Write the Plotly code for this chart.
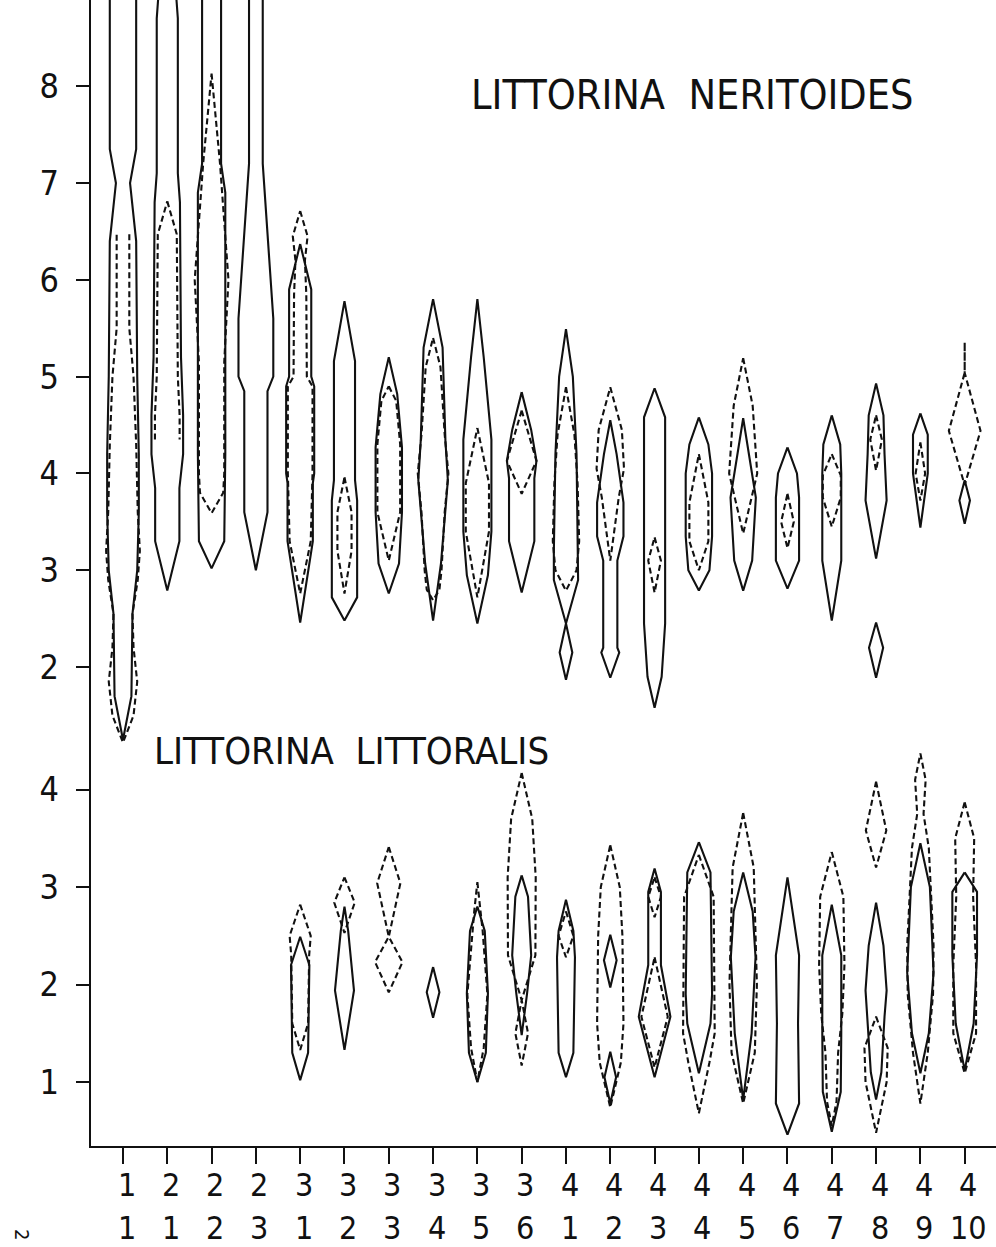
import plotly.graph_objects as go

# ---------------- data ----------------
SITES = ["1/1", "2/1", "2/2", "2/3", "3/1", "3/2", "3/3", "3/4", "3/5", "3/6",
         "4/1", "4/2", "4/3", "4/4", "4/5", "4/6", "4/7", "4/8", "4/9", "4/10"]
LEVEL_LABELS = [s.split("/")[0] for s in SITES]
STATION_LABELS = [s.split("/")[1] for s in SITES]

TOP_TICKS = [2, 3, 4, 5, 6, 7, 8]
BOTTOM_TICKS = [1, 2, 3, 4]

# kite outlines: list of pieces, each piece = list of (size, relative frequency), top to bottom
NER_SOLID = {
    "1/1": [[(9.0, 12.5), (7.35, 12.5), (7.0, 6.7), (6.4, 12.5), (5.0, 13.5), (4.2, 15), (3.6, 15),
             (3.0, 13.5), (2.55, 9), (1.7, 8), (1.25, 0)]],
    "2/1": [[(9.0, 8), (8.7, 10), (7.1, 10), (6.8, 12), (5.2, 13), (4.6, 15), (4.2, 15), (3.85, 11.5),
             (3.3, 11.5), (2.79, 0)]],
    "2/2": [[(9.0, 9), (7.2, 9), (6.9, 13), (4.2, 13), (3.3, 12), (3.02, 0)]],
    "2/3": [[(9.0, 6.5), (7.2, 6.5), (5.6, 16.5), (5.0, 16.5), (4.85, 11), (3.6, 11), (3.0, 0)]],
    "3/1": [[(6.37, 0), (5.9, 10.5), (5.0, 10.5), (4.9, 13.3), (4.0, 13.3), (3.9, 12), (3.3, 12), (2.46, 0)]],
    "3/2": [[(5.78, 0), (5.16, 10), (3.93, 10), (3.72, 12), (2.72, 12), (2.48, 0)]],
    "3/3": [[(5.2, 0), (4.82, 8), (4.27, 12.5), (3.6, 12.5), (3.07, 9.7), (2.76, 0)]],
    "3/4": [[(5.8, 0), (5.3, 9), (4.34, 11.7), (3.93, 14), (3.07, 7.5), (2.48, 0)]],
    "3/5": [[(5.8, 0), (5.2, 6), (4.35, 13.3), (3.4, 13.3), (2.95, 10), (2.45, 0)]],
    "3/6": [[(4.84, 0), (4.45, 9), (4.13, 14), (3.95, 12), (3.3, 12), (2.77, 0)]],
    "4/1": [[(5.49, 0), (5.0, 6.5), (4.2, 10), (3.2, 11.5), (2.9, 11.5), (2.45, 0), (2.15, 6), (1.87, 0)]],
    "4/2": [[(4.55, 0), (4.2, 6), (3.7, 12.5), (3.35, 12.5), (3.1, 6.7), (2.2, 6.7), (2.15, 8.5), (1.89, 0)]],
    "4/3": [[(4.88, 0), (4.58, 10), (2.45, 10), (1.9, 6.7), (1.58, 0)]],
    "4/4": [[(4.58, 0), (4.3, 9), (4.0, 12.5), (3.35, 12.5), (3.0, 10), (2.79, 0)]],
    "4/5": [[(4.57, 0), (3.75, 12), (3.1, 8.5), (2.79, 0)]],
    "4/6": [[(4.27, 0), (4.0, 9), (3.75, 11), (3.1, 11), (2.81, 0)]],
    "4/7": [[(4.6, 0), (4.3, 8), (4.0, 9), (3.1, 9), (2.48, 0)]],
    "4/8": [[(4.93, 0), (4.6, 7), (4.2, 8), (3.72, 10), (3.12, 0)], [(2.46, 0), (2.2, 6.7), (1.89, 0)]],
    "4/9": [[(4.62, 0), (4.4, 7), (4.0, 7), (3.44, 0)]],
    "4/10": [[(3.93, 0), (3.72, 5), (3.48, 0)]],
}

NER_DASHED = {
    "1/1": [[(6.47, 6), (5.5, 6), (5.0, 10), (4.3, 12.5), (3.6, 14), (3.2, 16), (2.9, 14), (2.55, 9),
             (2.2, 10), (1.85, 13.5), (1.5, 10), (1.22, 0)]],
    "2/1": [[(6.81, 0), (6.47, 9), (5.0, 10), (4.6, 11.7), (4.35, 11.7)]],
    "2/2": [[(8.13, 0), (7.2, 8), (6.0, 16), (5.15, 12), (4.0, 12), (3.8, 11), (3.59, 0)]],
    "3/1": [[(6.71, 0), (6.45, 7), (6.2, 4.5), (5.85, 5.8), (5.0, 6.3), (4.9, 11.7), (4.0, 11.7),
             (3.3, 10), (2.76, 0)]],
    "3/2": [[(3.96, 0), (3.6, 6.7), (3.2, 6.7), (2.76, 0)]],
    "3/3": [[(4.9, 0), (4.75, 7), (4.3, 10.8), (3.6, 10.8), (3.1, 0)]],
    "3/4": [[(5.4, 0), (5.1, 7), (4.4, 11), (4.0, 14.5), (3.6, 11), (3.0, 8), (2.8, 6), (2.69, 0)]],
    "3/5": [[(4.47, 0), (3.9, 11), (3.4, 11), (2.72, 0)]],
    "3/6": [[(4.65, 0), (4.13, 14), (3.79, 0)]],
    "4/1": [[(4.89, 0), (4.4, 8), (3.9, 11), (3.3, 12.5), (3.0, 10), (2.79, 0)]],
    "4/2": [[(4.89, 0), (4.45, 11), (4.05, 13), (3.75, 8), (3.1, 0)]],
    "4/3": [[(3.34, 0), (3.1, 6), (2.77, 0)]],
    "4/4": [[(4.2, 0), (3.7, 9), (3.3, 9), (3.0, 0)]],
    "4/5": [[(5.19, 0), (4.7, 9), (4.0, 13.3), (3.38, 0)]],
    "4/6": [[(3.79, 0), (3.5, 6), (3.23, 0)]],
    "4/7": [[(4.2, 0), (3.98, 8.5), (3.75, 8.5), (3.45, 0)]],
    "4/8": [[(4.6, 0), (4.35, 5.5), (4.03, 0)]],
    "4/9": [[(4.32, 0), (4.0, 4.5), (3.72, 0)]],
    "4/10": [[(5.35, 0), (5.04, 0), (4.44, 15), (3.88, 0)]],
}

LIT_SOLID = {
    "3/1": [[(2.49, 0), (2.2, 8.7), (1.3, 7.5), (1.02, 0)]],
    "3/2": [[(2.8, 0), (2.55, 3.5), (1.94, 9), (1.33, 0)]],
    "3/4": [[(2.18, 0), (1.92, 6), (1.66, 0)]],
    "3/5": [[(2.8, 0), (2.55, 7), (1.91, 10), (1.3, 8), (1.0, 0)]],
    "3/6": [[(3.12, 0), (2.9, 6), (2.3, 9), (1.9, 5), (1.48, 0)]],
    "4/1": [[(2.87, 0), (2.55, 7), (2.28, 8.5), (1.3, 7), (1.05, 0)]],
    "4/2": [[(2.51, 0), (2.25, 6), (1.97, 0)], [(1.31, 0), (1.05, 5.5), (0.78, 0)]],
    "4/3": [[(3.19, 0), (2.95, 6), (2.2, 6), (1.67, 15), (1.05, 0)]],
    "4/4": [[(3.46, 0), (3.15, 11), (1.9, 12.5), (1.6, 11), (1.09, 0)]],
    "4/5": [[(3.15, 0), (2.75, 9), (2.28, 11.7), (1.5, 8), (0.82, 0)]],
    "4/6": [[(3.1, 0), (2.3, 11), (1.6, 10), (0.78, 11), (0.46, 0)]],
    "4/7": [[(2.82, 0), (2.3, 9), (1.5, 9), (0.9, 8.5), (0.49, 0)]],
    "4/8": [[(2.84, 0), (2.4, 7), (1.94, 10), (1.67, 8), (1.1, 5), (0.82, 0)]],
    "4/9": [[(3.45, 0), (3.0, 9), (2.12, 12.5), (1.5, 8), (1.09, 0)]],
    "4/10": [[(3.15, 0), (2.95, 11.7), (2.3, 11.7), (1.6, 8.5), (1.12, 0)]],
}

LIT_DASHED = {
    "3/1": [[(2.82, 0), (2.5, 10), (2.3, 8.5), (1.6, 7.5), (1.33, 0)]],
    "3/2": [[(3.1, 0), (2.84, 9.7), (2.53, 0)]],
    "3/3": [[(3.41, 0), (3.04, 11), (2.49, 0), (2.23, 13), (1.92, 0)]],
    "3/5": [[(3.05, 0), (2.75, 3), (2.55, 5), (1.9, 9.5), (1.35, 6), (1.0, 0)]],
    "3/6": [[(4.17, 0), (3.7, 10), (3.1, 13.3), (2.3, 13), (1.84, 0), (1.5, 6), (1.17, 0)]],
    "4/1": [[(2.75, 0), (2.5, 7), (2.28, 0)]],
    "4/2": [[(3.43, 0), (3.0, 9), (2.5, 11.5), (1.6, 12.5), (1.2, 10), (0.74, 0)]],
    "4/3": [[(3.1, 0), (2.9, 6), (2.69, 0)], [(2.28, 0), (1.67, 12.5), (1.15, 0)]],
    "4/4": [[(3.33, 0), (2.9, 14), (1.5, 15), (1.2, 10), (0.68, 0)]],
    "4/5": [[(3.76, 0), (3.2, 10), (2.0, 13), (1.3, 11), (0.78, 0)]],
    "4/7": [[(3.36, 0), (2.9, 11), (2.2, 12), (1.7, 10), (1.3, 6), (0.8, 4.5), (0.55, 0)]],
    "4/8": [[(4.08, 0), (3.58, 9.7), (3.2, 0)], [(1.67, 0), (1.35, 11), (1.0, 10), (0.48, 0)]],
    "4/9": [[(4.37, 0), (4.1, 5), (3.75, 3), (3.4, 8), (2.4, 12.5), (1.9, 12), (1.3, 7), (0.78, 0)]],
    "4/10": [[(3.87, 0), (3.5, 9), (2.9, 8), (2.2, 10.8), (1.5, 10.8), (1.09, 0)]],
}

# ---------------- style ----------------
KITE_SCALE = 1 / 42.0      # frequency units -> category units
FONT = "DejaVu Sans Condensed, Liberation Sans Narrow, Liberation Sans, sans-serif"
INK = "#111111"
DASH = "6px,3.5px"


def kite_path(data):
    xs, ys = [], []
    for site, pieces in data.items():
        c = SITES.index(site)
        for piece in pieces:
            for v, w in piece:
                xs.append(c + w * KITE_SCALE)
                ys.append(v)
            if piece[-1][1] > 0:
                xs.append(None)
                ys.append(None)
            for v, w in reversed(piece):
                xs.append(c - w * KITE_SCALE)
                ys.append(v)
            xs.append(None)
            ys.append(None)
    return xs, ys


fig = go.Figure()
for data, yax, dash in [(NER_SOLID, "y", "solid"), (NER_DASHED, "y", DASH),
                        (LIT_SOLID, "y2", "solid"), (LIT_DASHED, "y2", DASH)]:
    xs, ys = kite_path(data)
    fig.add_trace(go.Scatter(x=xs, y=ys, xaxis="x", yaxis=yax, mode="lines",
                             line=dict(color=INK, width=2.1, dash=dash),
                             hoverinfo="skip", showlegend=False))

SPLIT = 0.3455
axis_common = dict(showline=True, linewidth=2.2, linecolor=INK, showgrid=False, zeroline=False,
                   ticks="outside", tickcolor=INK, tickwidth=2, automargin=False,
                   tickfont=dict(family=FONT, size=34, color=INK))

annotations = [
    dict(text="LITTORINA  NERITOIDES", xref="paper", yref="paper", x=0.664, y=0.9175,
         xanchor="center", yanchor="middle", showarrow=False,
         font=dict(family=FONT, size=41, color=INK)),
    dict(text="LITTORINA  LITTORALIS", xref="paper", yref="paper", x=0.288, y=0.3447,
         xanchor="center", yanchor="middle", showarrow=False,
         font=dict(family=FONT, size=38, color=INK)),
    dict(text="2", xref="paper", yref="paper", x=-0.0765, y=-0.0775, textangle=90,
         xanchor="center", yanchor="middle", showarrow=False,
         font=dict(family=FONT, size=20, color=INK)),
]
# two-row category labels under the x axis
for i, (a, b) in enumerate(zip(LEVEL_LABELS, STATION_LABELS)):
    for txt, yp in [(a, -0.0336), (b, -0.0712)]:
        annotations.append(dict(text=txt, xref="x", yref="paper", x=i + 0.08, y=yp,
                                xanchor="center", yanchor="middle", showarrow=False,
                                font=dict(family=FONT, size=32, color=INK)))

fig.update_layout(
    width=996, height=1247,
    margin=dict(l=91, r=0, t=0, b=101),
    paper_bgcolor="white", plot_bgcolor="white",
    showlegend=False,
    xaxis=dict(range=[-0.722, 19.707], tickmode="array", tickvals=list(range(len(SITES))),
               showticklabels=False, ticklen=16, anchor="y2", **axis_common),
    yaxis=dict(domain=[SPLIT, 1], range=[1.143, 8.89], tickmode="array", tickvals=TOP_TICKS,
               ticklen=13, ticklabelstandoff=10, anchor="x", **axis_common),
    yaxis2=dict(domain=[0, SPLIT], range=[0.344, 4.405], tickmode="array", tickvals=BOTTOM_TICKS,
                ticklen=13, ticklabelstandoff=10, anchor="x", **axis_common),
    annotations=annotations,
)

fig.write_html("out.html", config={"displayModeBar": False, "staticPlot": True},
               post_script="document.body.style.margin='0';document.body.style.overflow='hidden';")
